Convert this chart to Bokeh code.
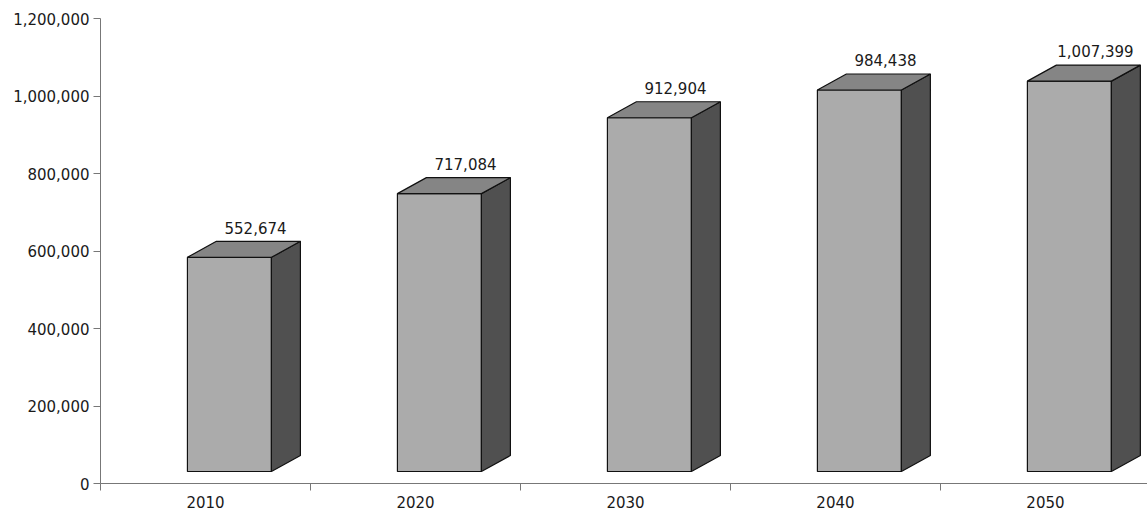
from bokeh.plotting import figure
from bokeh.models import FixedTicker, NumeralTickFormatter, ColumnDataSource, Range1d
from bokeh.core.properties import value
from bokeh.embed import file_html
from bokeh.resources import INLINE

years = ["2010", "2020", "2030", "2040", "2050"]
values = [552674, 717084, 912904, 984438, 1007399]
y_ticks = [0, 200000, 400000, 600000, 800000, 1000000, 1200000]

# 3-D look (styling constants)
BAR_W = 0.40
SHIFT = 0.114
DX = 0.138
DY = 41300
BASE = 31000
FONT = "DejaVu Sans"

p = figure(width=1147, height=513, output_backend="svg", toolbar_location=None,
           x_range=Range1d(0, 4.986), y_range=Range1d(0, 1200000),
           min_border_left=100, min_border_right=0, min_border_top=18, min_border_bottom=30)
p.outline_line_color = None
p.xgrid.grid_line_color = None
p.ygrid.grid_line_color = None
p.background_fill_color = "white"
p.border_fill_color = "white"

centers = [i + 0.5 for i in range(len(years))]
fx, fy, sx, sy, tx, ty = [], [], [], [], [], []
for c, v in zip(centers, values):
    L = c + SHIFT - BAR_W / 2
    R = c + SHIFT + BAR_W / 2
    top = v + BASE
    fx.append([L, R, R, L]); fy.append([BASE, BASE, top, top])
    sx.append([R, R + DX, R + DX, R]); sy.append([BASE, BASE + DY, top + DY, top])
    tx.append([L, L + DX, R + DX, R]); ty.append([top, top + DY, top + DY, top])

p.patches(fx, fy, fill_color="#ababab", line_color="#111111", line_width=1.2)
p.patches(sx, sy, fill_color="#505050", line_color="#111111", line_width=1.2)
p.patches(tx, ty, fill_color="#858585", line_color="#111111", line_width=1.2)

lab = ColumnDataSource(dict(x=[c + SHIFT + DX * 0.9 for c in centers],
                            y=[v + BASE + DY + 20000 for v in values],
                            t=[f"{v:,}" for v in values]))
p.text(x="x", y="y", text="t", source=lab, text_align="center", text_baseline="bottom",
       text_font=value(FONT), text_font_size="15px", text_color="#1a1a1a")

# x axis
xa = p.xaxis[0]
xa.ticker = FixedTicker(ticks=centers, minor_ticks=list(range(len(years) + 1)))
xa.major_label_overrides = {c: y for c, y in zip(centers, years)}
xa.major_tick_line_color = None
xa.major_tick_out = 0
xa.major_tick_in = 0
xa.minor_tick_out = 7
xa.minor_tick_in = 0
xa.minor_tick_line_color = "#777777"
xa.axis_line_color = "#777777"
xa.major_label_standoff = 5
xa.major_label_text_font = FONT
xa.major_label_text_font_size = "15px"
xa.major_label_text_color = "#1a1a1a"

# y axis
ya = p.yaxis[0]
ya.ticker = FixedTicker(ticks=y_ticks)
ya.formatter = NumeralTickFormatter(format="0,0")
ya.minor_tick_line_color = None
ya.major_tick_out = 7
ya.major_tick_in = 0
ya.major_tick_line_color = "#777777"
ya.axis_line_color = "#777777"
ya.major_label_standoff = 4
ya.major_label_text_font = FONT
ya.major_label_text_font_size = "15px"
ya.major_label_text_color = "#1a1a1a"

open("out.html", "w").write(file_html(p, INLINE))
